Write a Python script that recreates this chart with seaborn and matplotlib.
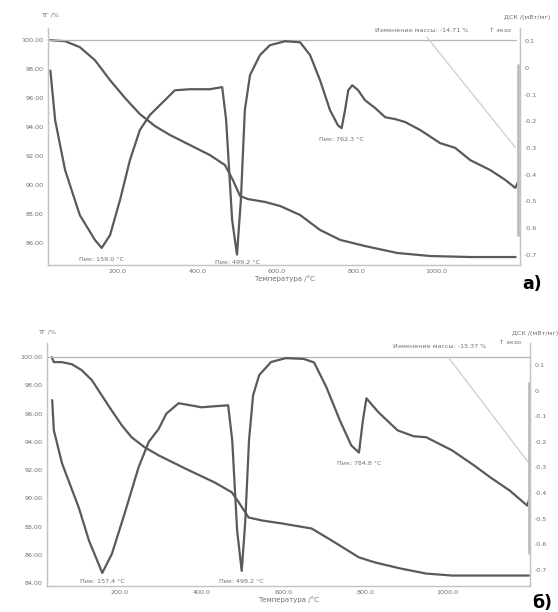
import matplotlib
matplotlib.use("Agg")
import matplotlib.pyplot as plt
import seaborn as sns

# === Panel a) data ===
a_dsc_t = [30, 42, 67, 104, 142, 159.0, 180, 205, 230, 255, 280, 318, 343, 381, 431, 462, 472, 487,
           499.2, 509, 519, 532, 557, 582, 620, 658, 683, 708, 733, 753, 762.3, 771, 779, 789, 804, 821,
           847, 872, 897, 922, 960, 1010, 1048, 1086, 1136, 1174, 1199, 1206]
a_dsc = [-0.01, -0.196, -0.383, -0.552, -0.645, -0.675, -0.627, -0.496, -0.346, -0.233, -0.177, -0.121,
         -0.084, -0.080, -0.080, -0.072, -0.196, -0.570, -0.70, -0.496, -0.158, -0.027, 0.048, 0.085,
         0.10, 0.096, 0.048, -0.046, -0.158, -0.215, -0.226, -0.158, -0.084, -0.065, -0.084, -0.121,
         -0.151, -0.185, -0.192, -0.203, -0.233, -0.282, -0.30, -0.346, -0.383, -0.42, -0.45, -0.428]
a_tg_t = [29, 67, 104, 142, 180, 218, 255, 293, 331, 381, 431, 469, 489, 507, 527, 570, 608, 658, 708,
          759, 821, 902, 985, 1086, 1200]
a_tg = [100.0, 99.93, 99.52, 98.62, 97.24, 96.0, 94.9, 94.07, 93.45, 92.76, 92.07, 91.38, 90.34, 89.24,
        89.03, 88.83, 88.55, 87.93, 86.9, 86.21, 85.79, 85.31, 85.1, 85.03, 85.03]
a_peaks = [159.0, 499.2, 762.3]
a_mass_change = "-14.71"

# === Panel b) data ===
b_dsc_t = [35, 39, 59, 100, 125, 157.4, 181, 212, 246, 271, 295, 314, 344, 400, 465, 475, 487, 498.2,
           507, 516, 526, 541, 570, 606, 650, 675, 705, 738, 766, 784.8, 794, 803, 832, 879, 918, 949,
           1012, 1066, 1106, 1153, 1196, 1202]
b_dsc = [-0.037, -0.155, -0.284, -0.457, -0.586, -0.712, -0.637, -0.48, -0.30, -0.20, -0.15, -0.09,
         -0.049, -0.065, -0.057, -0.194, -0.547, -0.704, -0.508, -0.194, -0.018, 0.061, 0.112, 0.127,
         0.124, 0.11, 0.014, -0.116, -0.214, -0.242, -0.12, -0.03, -0.084, -0.155, -0.178, -0.182,
         -0.233, -0.292, -0.339, -0.39, -0.449, -0.418]
b_tg_t = [34, 39, 58, 83, 107, 132, 156, 180, 205, 229, 261, 295, 359, 432, 474, 491, 515, 547, 596,
          669, 718, 785, 825, 886, 949, 1012, 1200]
b_tg = [100.0, 99.65, 99.65, 99.5, 99.08, 98.37, 97.3, 96.24, 95.18, 94.33, 93.62, 93.05, 92.13, 91.13,
        90.43, 89.72, 88.65, 88.44, 88.23, 87.87, 87.02, 85.82, 85.46, 85.04, 84.68, 84.54, 84.54]
b_peaks = [157.4, 498.2, 784.8]
b_mass_change = "-15.37"

x_ticks = [200, 400, 600, 800, 1000]
dsc_ticks = [0.1, 0, -0.1, -0.2, -0.3, -0.4, -0.5, -0.6, -0.7]
dsc_labels = ["0.1", "0", "-0.1", "-0.2", "-0.3", "-0.4", "-0.5", "-0.6", "-0.7"]

CURVE = "#5a5a5a"
LIGHT = "#c8c8c8"
TXT = "#707070"
FS = 4.6

sns.set_style("white")
plt.rcParams["font.family"] = ["DejaVu Sans"]

fig = plt.figure(figsize=(5.58, 6.12), dpi=100)


def panel(rect, xlim, tg_lim, dsc_lim, tg_ticks, dsc_t, dsc, tg_t, tg, peaks, peak_off,
          leader, bar, letter, letter_y):
    ax = fig.add_axes(rect)
    ax2 = ax.twinx()
    sns.lineplot(x=tg_t, y=tg, ax=ax, color=CURVE, lw=1.6)
    sns.lineplot(x=dsc_t, y=dsc, ax=ax2, color=CURVE, lw=1.6)
    # 100 % baseline and mass-change leader line
    ax.plot([xlim[0], 1200], [100, 100], color="#b5b5b5", lw=0.9)
    ax.plot(leader[0], leader[1], color=LIGHT, lw=0.8)
    ax2.plot([bar[0], bar[0]], bar[1:], color="#bdbdbd", lw=2.0, clip_on=False)

    ax.set_xlim(xlim)
    ax.set_ylim(tg_lim)
    ax2.set_ylim(dsc_lim)
    ax.set_xticks(x_ticks)
    ax.set_xticklabels([f"{t:.1f}" for t in x_ticks])
    ax.set_yticks(tg_ticks)
    ax.set_yticklabels([f"{t:.2f}" for t in tg_ticks])
    ax2.set_yticks(dsc_ticks)
    ax2.set_yticklabels(dsc_labels)
    ax.set_xlabel("Температура /°C", fontsize=FS + 0.4, color=TXT, labelpad=1)
    ax.set_ylabel("")
    ax2.set_ylabel("")
    for a in (ax, ax2):
        a.tick_params(length=0, labelsize=FS, labelcolor=TXT, pad=3)
        a.spines["top"].set_visible(False)
        for s in ("left", "right", "bottom"):
            a.spines[s].set_color("#c4c4c4")
            a.spines[s].set_linewidth(0.9)
        a.grid(False)

    for p, off in zip(peaks, peak_off):
        i = dsc_t.index(p)
        ax2.annotate(f"Пик: {p:.1f} °C", (p, dsc[i]), xytext=(0, off), textcoords="offset points",
                     ha="center", va="center", fontsize=FS, color=TXT)
    ax.text(1.005, letter_y, letter, transform=ax.transAxes, fontsize=12.5,
            fontweight="bold", color="black", ha="left", va="center", clip_on=False)
    return ax, ax2


panel([0.086, 0.567, 0.846, 0.387], (24, 1211), (84.48, 100.83), (-0.739, 0.149),
      [100, 98, 96, 94, 92, 90, 88, 86], a_dsc_t, a_dsc, a_tg_t, a_tg, a_peaks, [-8, -6, -8],
      ([977, 1199], [100.2, 92.6]), [1205, 0.01, -0.627], "а)", -0.08)
panel([0.084, 0.0425, 0.866, 0.397], (22, 1203), (83.8, 101.0), (-0.763, 0.186),
      [100, 98, 96, 94, 92, 90, 88, 86, 84], b_dsc_t, b_dsc, b_tg_t, b_tg, b_peaks, [-6, -8, -8],
      ([1003, 1200], [100.0, 92.5]), [1201, 0.03, -0.633], "б)", -0.07)

# axis titles and annotations
fig.text(50 / 558, 1 - 15 / 612, "ТГ /%", fontsize=FS, color=TXT, ha="center", va="center")
fig.text(550 / 558, 1 - 18 / 612, "ДСК /(мВт/мг)", fontsize=FS, color=TXT, ha="right", va="center")
fig.text(500 / 558, 1 - 31 / 612, "↑ экзо", fontsize=FS, color=TXT, ha="center", va="center")
fig.text(422 / 558, 1 - 30 / 612, f"Изменение массы: {a_mass_change} %", fontsize=FS, color=TXT,
         ha="center", va="center")

fig.text(47 / 558, 1 - 332 / 612, "ТГ /%", fontsize=FS, color=TXT, ha="center", va="center")
fig.text(512 / 558, 1 - 333 / 612, "ДСК /(мВт/мг)", fontsize=FS, color=TXT, ha="left", va="center")
fig.text(510 / 558, 1 - 343 / 612, "↑ экзо", fontsize=FS, color=TXT, ha="center", va="center")
fig.text(440 / 558, 1 - 347 / 612, f"Изменение массы: {b_mass_change} %", fontsize=FS, color=TXT,
         ha="center", va="center")

fig.savefig("out.png", dpi=100)
